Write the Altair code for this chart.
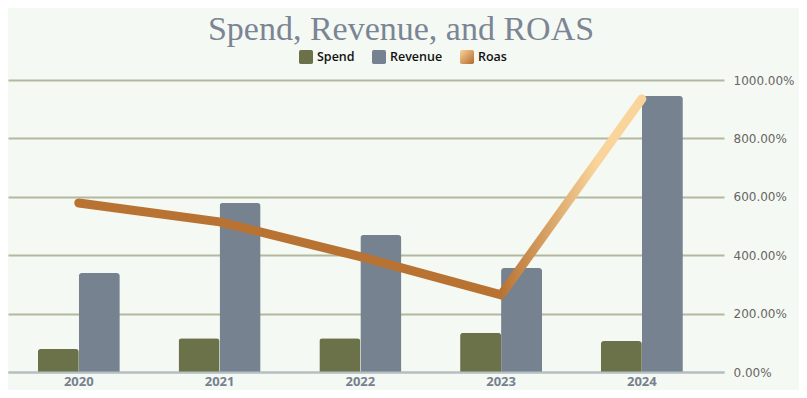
import altair as alt
import pandas as pd

years = ["2020", "2021", "2022", "2023", "2024"]
spend = [79, 116, 116, 134, 106]
revenue = [339, 579, 469, 356, 945]
roas_pct = [579, 514, 395, 264, 935]
series_names = ["Spend", "Revenue", "Roas"]
bar_series = ["Spend", "Revenue"]
roas_ticks = [0, 2, 4, 6, 8, 10]

bars_df = pd.DataFrame({
    "year": years * 2,
    "series": ["Spend"] * len(years) + ["Revenue"] * len(years),
    "value": spend + revenue,
})
line_df = pd.DataFrame({"year": years, "roas": [v / 100 for v in roas_pct]})

COPPER = "#b87333"
PEACH = "#f9d49b"
roas_legend_fill = {
    "expr": "{gradient: 'linear', x1: 0, y1: 0, x2: 1, y2: 1, "
            "stops: [{offset: 0, color: '#f9d49b'}, {offset: 1, color: '#b4692e'}]}"
}

rounded_square = ("M-1,-0.75Q-1,-1 -0.75,-1L0.75,-1Q1,-1 1,-0.75L1,0.75Q1,1 0.75,1"
                  "L-0.75,1Q-1,1 -1,0.75Z")

x_enc = alt.X(
    "year:N",
    sort=years,
    scale=alt.Scale(paddingInner=0.4174, paddingOuter=0.252, align=0.42, round=False),
    axis=alt.Axis(
        title=None, labelAngle=0, labelFont="Open Sans", labelFontSize=13,
        labelFontWeight="bold", labelColor="#77808f", ticks=False,
        domain=True, domainColor="#b4bfc6", domainWidth=2, grid=False,
        labelPadding=3, zindex=1,
    ),
)

bars = alt.Chart(bars_df).mark_bar(
    cornerRadiusTopLeft=3, cornerRadiusTopRight=3
).encode(
    x=x_enc,
    xOffset=alt.XOffset("series:N", sort=bar_series,
                        scale=alt.Scale(domain=bar_series, paddingInner=0, paddingOuter=0)),
    y=alt.Y("value:Q", scale=alt.Scale(domain=[0, 1000]), axis=None),
    color=alt.Color(
        "series:N",
        scale=alt.Scale(domain=series_names,
                        range=["#6b7249", "#76828f", roas_legend_fill]),
        legend=alt.Legend(
            orient="none", legendX=291, legendY=-30, direction="horizontal",
            title=None, symbolType=rounded_square, symbolSize=196,
            symbolStrokeWidth=0, symbolOpacity=1, labelFont="Open Sans",
            labelFontSize=12.5, labelFontWeight=600, labelColor="#111111",
            columnPadding=17, labelOffset=4, padding=0,
        ),
    ),
)

line = alt.Chart(line_df).mark_line(
    strokeWidth=9, strokeCap="round", strokeJoin="round",
    stroke=alt.LinearGradient(
        gradient="linear", x1=0, x2=1, y1=0, y2=0,
        stops=[
            alt.GradientStop(offset=0, color=COPPER),
            alt.GradientStop(offset=0.75, color=COPPER),
            alt.GradientStop(offset=0.92, color=PEACH),
            alt.GradientStop(offset=1, color=PEACH),
        ],
    ),
).encode(
    x=alt.X("year:N", sort=years),
    y=alt.Y(
        "roas:Q",
        scale=alt.Scale(domain=[0, 10]),
        axis=alt.Axis(
            orient="right", title=None, values=roas_ticks, format=".2%",
            labelFont="DejaVu Sans", labelFontSize=12, labelColor="#666666",
            grid=True, gridColor="#b3b89f", gridWidth=2, domain=False,
            ticks=False, labelPadding=9,
        ),
    ),
)

chart = alt.layer(bars, line).resolve_scale(y="independent").properties(
    width=716,
    height=292,
    title=alt.TitleParams(
        "Spend, Revenue, and ROAS", font="Liberation Serif", fontSize=34,
        fontWeight="normal", color="#7b8595", anchor="middle", frame="bounds",
        offset=3,
    ),
    autosize=alt.AutoSizeParams(type="none"),
    padding={"left": 0, "top": 72, "right": 75, "bottom": 18},
).configure(background="#f5f9f3").configure_view(stroke=None)

chart.save("out.html", embed_options={"renderer": "svg", "actions": False})
